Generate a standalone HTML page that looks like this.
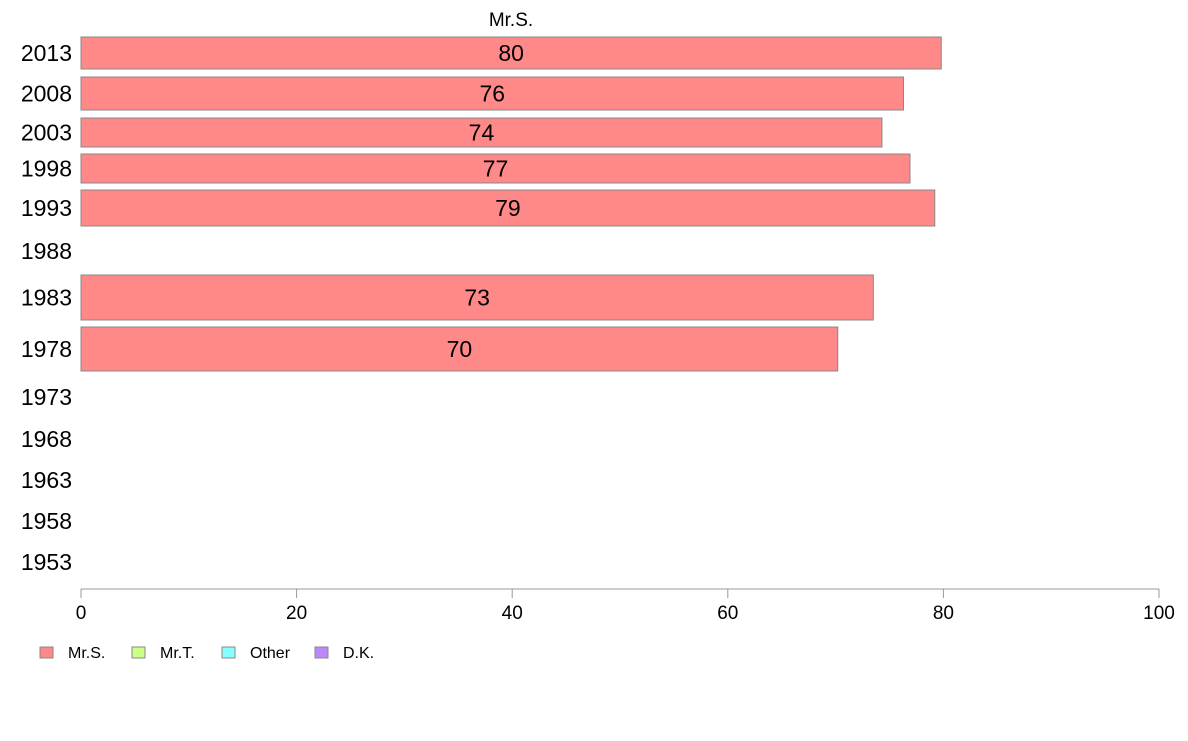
<!DOCTYPE html>
<html><head><meta charset="utf-8"><style>
body{margin:0;background:#fff;font-family:"Liberation Sans",Arial,sans-serif;}
svg text{font-family:"Liberation Sans",Arial,sans-serif;}
</style></head><body>
<svg id="chart" width="1188" height="736" xmlns="http://www.w3.org/2000/svg">
<text x="511" y="26" font-size="19" text-anchor="middle">Mr.S.</text>
<g id="bars"></g>
<g id="ylabels"></g>
<g id="xaxis"></g>
<g id="legend"></g>
</svg>
<script>
const years = ["2013","2008","2003","1998","1993","1988","1983","1978","1973","1968","1963","1958","1953"];
const values = [79.8,76.3,74.3,76.9,79.2,null,73.5,70.2,null,null,null,null,null];
const valueLabels = ["80","76","74","77","79","","73","70","","","","",""];
const xTicks = [0,20,40,60,80,100];
const legendLabels = ["Mr.S.","Mr.T.","Other","D.K."];
const legendColors = ["#ff8888","#ccff88","#88ffff","#bb88ff"];

// layout (row geometry in pixels)
const rowTop = [37,77,118,154,190,232,275,327,378,420,461,502,543];
const rowBottom = [69,110,147,183,226,270,320,371,416,458,499,540,581];

const NS="http://www.w3.org/2000/svg";
const x0=81,x1=1159;
const xs=v=>x0+(v/100)*(x1-x0);
function mk(t,a,p){const e=document.createElementNS(NS,t);for(const k in a)e.setAttribute(k,a[k]);p.appendChild(e);return e;}
const bars=document.getElementById('bars'),yl=document.getElementById('ylabels');
years.forEach((y,i)=>{
  const cy=(rowTop[i]+rowBottom[i])/2;
  const t=mk('text',{x:72,y:cy+8,'font-size':23,'text-anchor':'end'},yl);
  t.textContent=y;
  
  
  if(values[i]!=null){
    const r=mk('rect',{x:xs(0),y:rowTop[i],width:xs(values[i])-xs(0),height:rowBottom[i]-rowTop[i],fill:'#ff8888',stroke:'#888','stroke-width':1},bars);
    
    
    const l=mk('text',{x:xs(values[i]/2),y:cy+8,'font-size':23,'text-anchor':'middle'},bars);
    l.textContent=valueLabels[i];
    
    
  }
});
const xa=document.getElementById('xaxis');
mk('line',{x1:x0,x2:x1,y1:589,y2:589,stroke:'#999'},xa);
xTicks.forEach(v=>{
  mk('line',{x1:xs(v),x2:xs(v),y1:589,y2:598,stroke:'#999'},xa);
  const t=mk('text',{x:xs(v),y:619,'font-size':19,'text-anchor':'middle'},xa);
  t.textContent=v;
  
  
});
const lg=document.getElementById('legend');
const lx=[40,132,222,315];
legendLabels.forEach((n,i)=>{
  const r=mk('rect',{x:lx[i],y:647,width:13,height:11,fill:legendColors[i],stroke:'#888'},lg);
  
  
  const t=mk('text',{x:lx[i]+28,y:658,'font-size':16},lg);
  t.textContent=n;
  
  
});
</script>
</body></html>
